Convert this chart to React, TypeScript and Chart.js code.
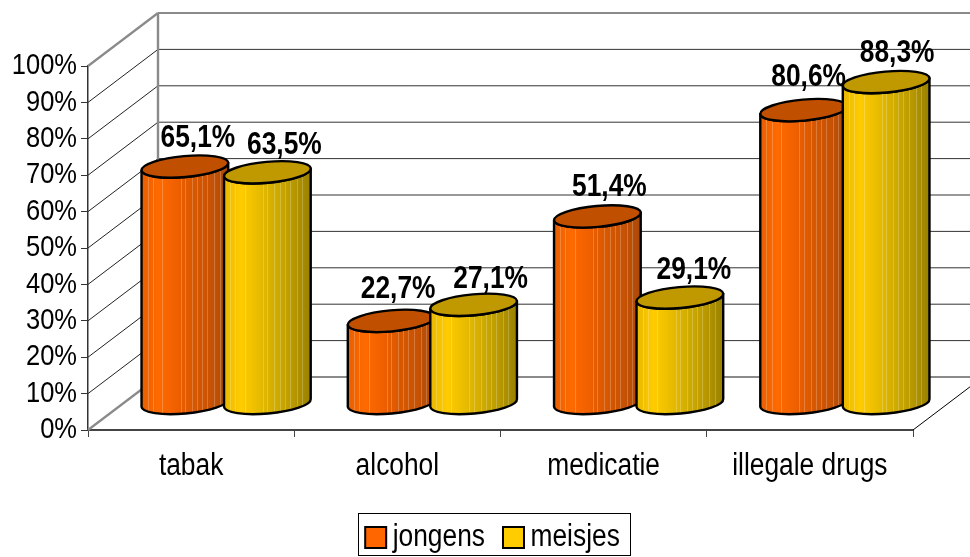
import React, { useEffect, useRef } from "react";
import { Chart, BarController, registerables } from "chart.js";

const categories = ["tabak", "alcohol", "medicatie", "illegale drugs"];
const jongens = [65.1, 22.7, 51.4, 80.6];
const meisjes = [63.5, 27.1, 29.1, 88.3];
const yTicks = [0, 10, 20, 30, 40, 50, 60, 70, 80, 90, 100];

const FONT = '"Liberation Sans", Arial, sans-serif';
const NARROW = 0.85;
const DEPTH_X = 70;
const DEPTH_Y = 53;
const TILT = -5.2 * Math.PI / 180;
const RY = 10.5;
const STREAKS = [0.07, 0.13, 0.24, 0.45, 0.5, 0.58, 0.64, 0.7, 0.76, 0.84, 0.9];

const SKINS: Record<string, { stops: string[]; top: string }> = {
  jongens: { stops: ["#e85f00", "#ff6a00", "#f06000", "#d85800", "#c85204", "#a84a08"], top: "#c05000" },
  meisjes: { stops: ["#e8b800", "#ffcc00", "#e8bc00", "#d0ac00", "#b89800", "#988000"], top: "#c09800" },
};

function drawCylinders(chart: any, metaIndex: number) {
  const ctx: CanvasRenderingContext2D = chart.ctx;
  const meta = chart.getDatasetMeta(metaIndex);
  const skin = SKINS[chart.data.datasets[metaIndex].label];
  for (const bar of meta.data) {
    const cx = bar.x + DEPTH_X / 2;
    const yTop = bar.y - DEPTH_Y / 2;
    const yBot = bar.base - DEPTH_Y / 2;
    const rx = bar.width / 2;
    const ex = rx * Math.cos(TILT);
    const ey = rx * Math.sin(TILT);

    const side = new Path2D();
    side.moveTo(cx - ex, yTop - ey);
    side.lineTo(cx - ex, yBot - ey);
    side.ellipse(cx, yBot, rx, RY, TILT, Math.PI, 0, true);
    side.lineTo(cx + ex, yTop + ey);
    side.ellipse(cx, yTop, rx, RY, TILT, 0, Math.PI, false);
    side.closePath();

    ctx.save();
    const g = ctx.createLinearGradient(cx - ex, 0, cx + ex, 0);
    skin.stops.forEach((c, i) => g.addColorStop(i / (skin.stops.length - 1), c));
    ctx.fillStyle = g;
    ctx.fill(side);

    ctx.save();
    ctx.clip(side);
    ctx.strokeStyle = "rgba(255,255,255,0.22)";
    ctx.lineWidth = 1;
    for (const f of STREAKS) {
      const sx = Math.round(cx - ex + 2 * ex * f) + 0.5;
      ctx.beginPath();
      ctx.moveTo(sx, yTop - RY);
      ctx.lineTo(sx, yBot + RY + 4);
      ctx.stroke();
    }
    ctx.restore();

    ctx.lineJoin = "round";
    ctx.lineWidth = 2.4;
    ctx.strokeStyle = "#000";
    ctx.stroke(side);

    ctx.beginPath();
    ctx.ellipse(cx, yTop, rx, RY, TILT, 0, Math.PI * 2);
    ctx.fillStyle = skin.top;
    ctx.fill();
    ctx.stroke();
    ctx.restore();
  }
}

class CylinderController extends BarController {
  static id = "cylinder";
  static defaults = { ...(BarController as any).defaults };
  static overrides = (BarController as any).overrides;

  draw() {
    // Chart.js paints the last dataset first; the second series must overlap the first.
    const self = this as any;
    if (self.index !== 0) return;
    drawCylinders(self.chart, 0);
    drawCylinders(self.chart, 1);
  }
}

Chart.register(...registerables, CylinderController as any);

const line = (ctx: CanvasRenderingContext2D, x1: number, y1: number, x2: number, y2: number, color: string, w: number) => {
  ctx.strokeStyle = color;
  ctx.lineWidth = w;
  ctx.beginPath();
  ctx.moveTo(x1, y1);
  ctx.lineTo(x2, y2);
  ctx.stroke();
};

const walls = {
  id: "walls",
  beforeDatasetsDraw(chart: any) {
    const { ctx, chartArea: a, scales } = chart;
    const y = scales.y;
    ctx.save();
    line(ctx, a.right, a.bottom, a.right + DEPTH_X, a.bottom - DEPTH_Y, "#000", 1);
    yTicks.forEach((t) => {
      const py = y.getPixelForValue(t);
      const edge = t === 0 || t === 100;
      const col = edge ? "#8a8a8a" : "#222";
      const w = edge ? 2.2 : 1;
      line(ctx, a.left, py, a.left + DEPTH_X, py - DEPTH_Y, col, w);
      line(ctx, a.left + DEPTH_X, py - DEPTH_Y, chart.width, py - DEPTH_Y, edge ? "#8a8a8a" : "#333", w);
    });
    line(ctx, a.left + DEPTH_X, y.getPixelForValue(100) - DEPTH_Y, a.left + DEPTH_X, y.getPixelForValue(0) - DEPTH_Y, "#8a8a8a", 2.4);
    ctx.restore();
  },
};

const LABEL_NUDGE_X = [[13, 7, 12, 5], [17, 17, 14, 11]];
const LABEL_NUDGE_Y = [[-28, -31, -29, -33], [-27, -25, -27, -29]];

const valueLabels = {
  id: "valueLabels",
  afterDatasetsDraw(chart: any) {
    const { ctx } = chart;
    ctx.save();
    ctx.font = `bold 31px ${FONT}`;
    ctx.fillStyle = "#000";
    ctx.textAlign = "center";
    ctx.textBaseline = "middle";
    chart.data.datasets.forEach((ds: any, d: number) => {
      chart.getDatasetMeta(d).data.forEach((bar: any, i: number) => {
        const txt = ds.data[i].toFixed(1).replace(".", ",") + "%";
        ctx.fillText(txt, bar.x + DEPTH_X / 2 + LABEL_NUDGE_X[d][i], bar.y - DEPTH_Y / 2 + LABEL_NUDGE_Y[d][i]);
      });
    });
    ctx.restore();
  },
};

const legendFrame = {
  id: "legendFrame",
  afterLayout(chart: any) {
    const l = chart.legend;
    l.left = 0;
    l.right = 994;
    l.top = 495;
  },
  afterDraw(chart: any) {
    const { ctx } = chart;
    ctx.save();
    ctx.strokeStyle = "#000";
    ctx.lineWidth = 1;
    ctx.strokeRect(358.5, 513.5, 272, 42);
    ctx.restore();
  },
};

// The original face is a narrow grotesque; no narrow family is installed, so text is condensed horizontally.
function condense(ctx: any) {
  const fill = ctx.fillText.bind(ctx);
  const measure = ctx.measureText.bind(ctx);
  ctx.fillText = (t: string, x: number, y: number) => {
    ctx.save();
    ctx.translate(x, y);
    ctx.scale(NARROW, 1);
    fill(t, 0, 0);
    ctx.restore();
  };
  ctx.measureText = (t: string) => {
    const m = measure(t);
    return { width: m.width * NARROW, actualBoundingBoxAscent: m.actualBoundingBoxAscent, actualBoundingBoxDescent: m.actualBoundingBoxDescent };
  };
}

export default function App() {
  const ref = useRef<HTMLCanvasElement>(null);
  useEffect(() => {
    const ctx = ref.current!.getContext("2d");
    condense(ctx);
    const chart = new Chart(ref.current!, {
      type: "cylinder" as any,
      data: {
        labels: categories,
        datasets: [
          { label: "jongens", data: jongens, backgroundColor: "#ff6600", borderColor: "#000", borderWidth: 2, clip: false as any },
          { label: "meisjes", data: meisjes, backgroundColor: "#ffcc00", borderColor: "#000", borderWidth: 2, clip: false as any },
        ],
      },
      plugins: [walls, valueLabels, legendFrame],
      options: {
        responsive: false,
        animation: false,
        categoryPercentage: 0.8,
        barPercentage: 1.055,
        layout: { padding: { top: 66, right: 57, left: 0, bottom: 0 } },
        scales: {
          x: {
            type: "category",
            offset: true,
            grid: { offset: true, drawOnChartArea: false, color: "#444", tickLength: 7 },
            border: { color: "#444", width: 2 },
            ticks: { font: { family: FONT, size: 31 }, color: "#000", padding: 11, maxRotation: 0, autoSkip: false },
            afterFit(s: any) { s.height = 557 - 430 - s.chart.legend.height; },
          },
          y: {
            type: "linear",
            min: 0,
            max: 100,
            grid: { drawOnChartArea: false, color: "#333", tickLength: 7 },
            border: { color: "#333", width: 1.5 },
            ticks: { stepSize: 10, autoSkip: false, font: { family: FONT, size: 30 }, color: "#000", padding: 4, callback: (v: any) => v + "%" },
            afterFit(s: any) { s.width = 88; },
          },
        } as any,
        plugins: {
          tooltip: { enabled: false },
          title: { display: false },
          legend: {
            position: "bottom",
            labels: {
              usePointStyle: true,
              pointStyle: "rect",
              boxWidth: 3,
              boxHeight: 21,
              padding: 27,
              color: "#000",
              font: { family: FONT, size: 31 },
            },
          },
        },
      } as any,
    });
    return () => chart.destroy();
  }, []);
  return (
    <div style={{ position: "absolute", left: 0, top: 0, width: 970, height: 557, background: "#fff" }}>
      <canvas ref={ref} width={970} height={557} style={{ display: "block" }} />
    </div>
  );
}
